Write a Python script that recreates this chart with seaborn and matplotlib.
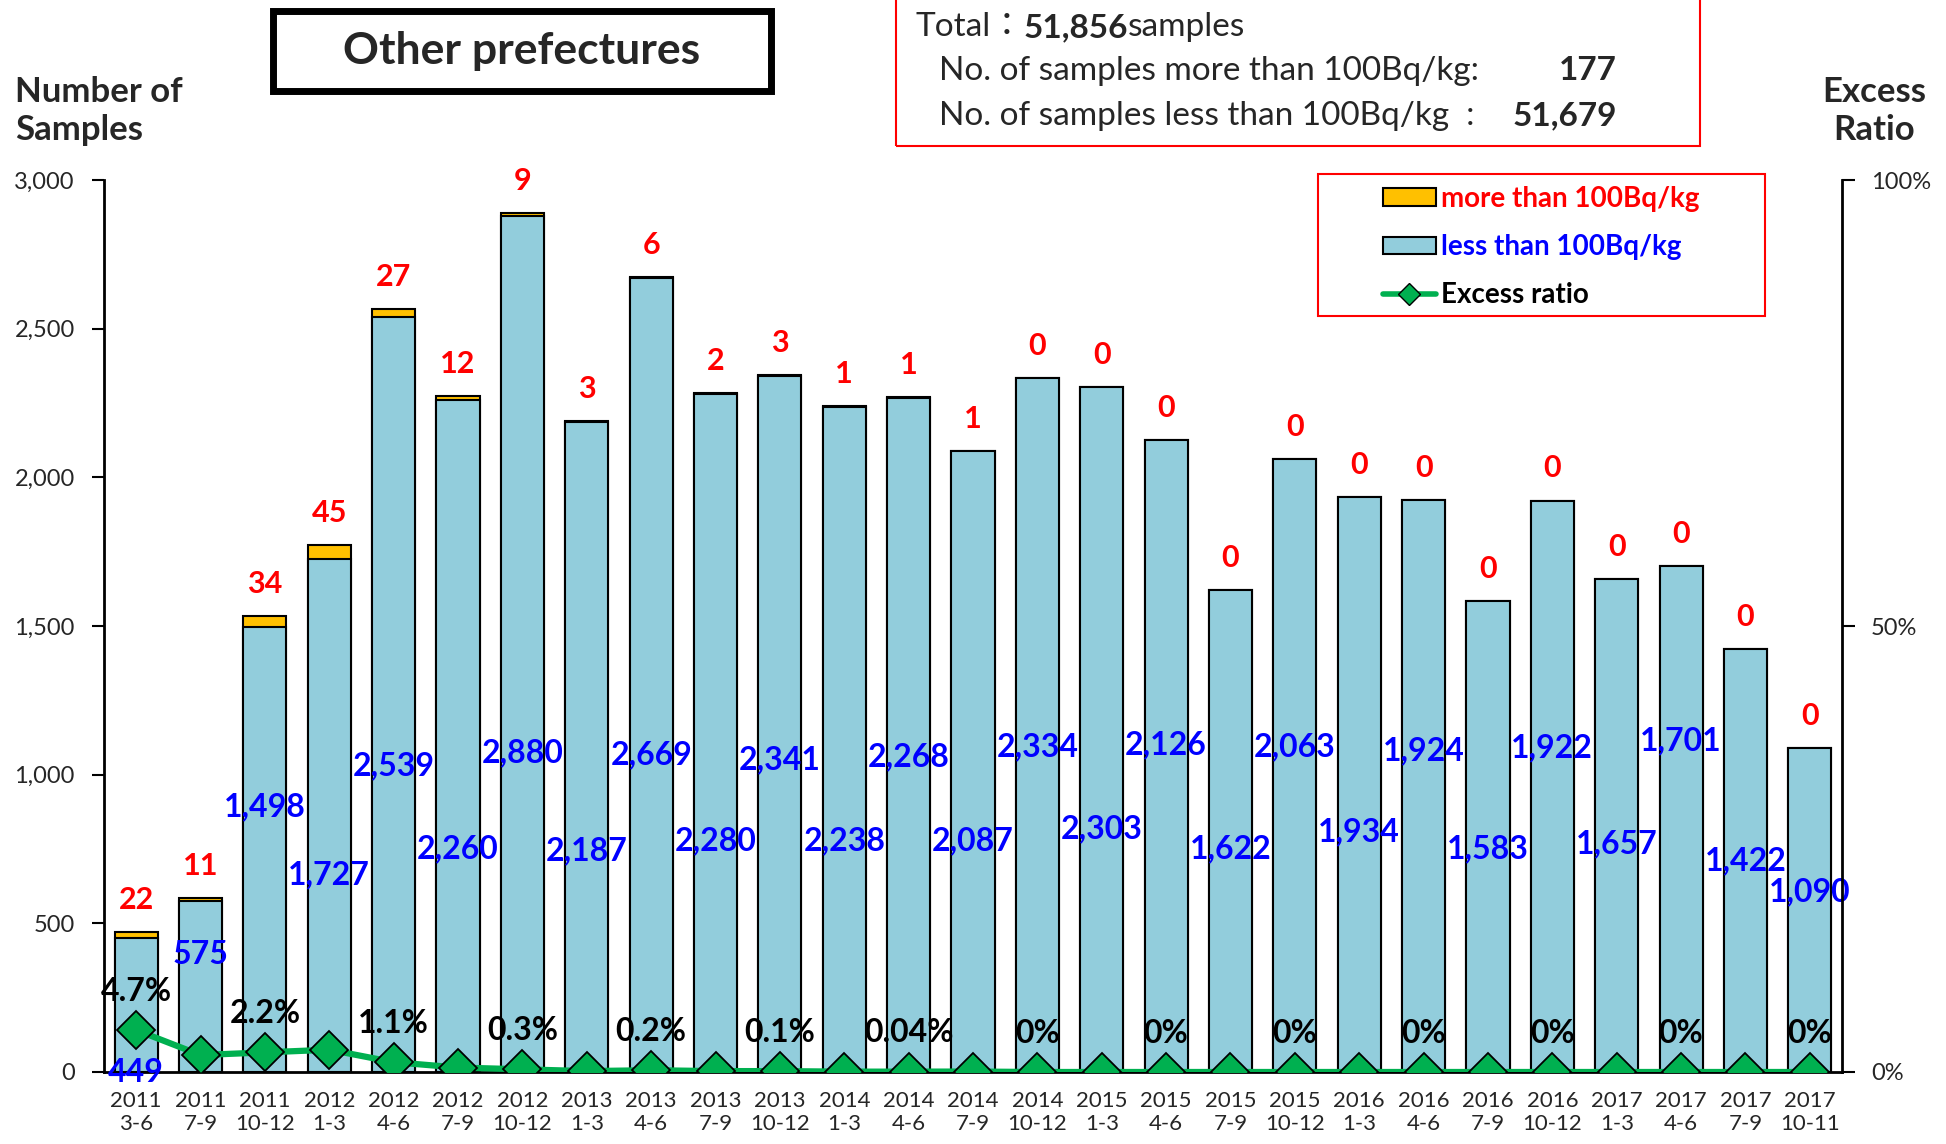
import numpy as np
import pandas as pd
import matplotlib
matplotlib.use("Agg")
import matplotlib.pyplot as plt
import seaborn as sns
from matplotlib.patches import Rectangle, Patch
from matplotlib.lines import Line2D

years = ["2011"] * 3 + ["2012"] * 4 + ["2013"] * 4 + ["2014"] * 4 + ["2015"] * 4 + ["2016"] * 4 + ["2017"] * 4
months = ["3-6", "7-9", "10-12"] + ["1-3", "4-6", "7-9", "10-12"] * 5 + ["1-3", "4-6", "7-9", "10-11"]

less = [449, 575, 1498, 1727, 2539, 2260, 2880, 2187, 2669, 2280, 2341, 2238, 2268, 2087,
        2334, 2303, 2126, 1622, 2063, 1934, 1924, 1583, 1922, 1657, 1701, 1422, 1090]
more = [22, 11, 34, 45, 27, 12, 9, 3, 6, 2, 3, 1, 1, 1,
        0, 0, 0, 0, 0, 0, 0, 0, 0, 0, 0, 0, 0]
ratio = [4.7, 1.9, 2.2, 2.5, 1.1, 0.5, 0.3, 0.1, 0.2, 0.1, 0.1, 0.04, 0.04, 0.05,
         0, 0, 0, 0, 0, 0, 0, 0, 0, 0, 0, 0, 0]
ratio_labels = ["4.7%", "", "2.2%", "", "1.1%", "", "0.3%", "", "0.2%", "", "0.1%", "", "0.04%", "",
                "0%", "", "0%", "", "0%", "", "0%", "", "0%", "", "0%", "", "0%"]

# where Excel put the blue labels (data units)
less_label_y = [0, 396, 893, 663, 1030, 751, 1072, 743, 1068, 776, 1051, 776, 1060, 776,
                1093, 818, 1101, 751, 1093, 809, 1081, 751, 1089, 768, 1114, 709, 605]

df = pd.DataFrame({"period": [y + "\n" + m for y, m in zip(years, months)],
                   "less": less, "more": more})
df["total"] = df.less + df.more

W, H = 1946, 1144
sns.set_theme(style="white")
plt.rcParams["font.family"] = ["Lato", "Noto Sans CJK JP", "DejaVu Sans"]

BLUE_BAR = "#92CDDC"
GOLD = "#FFC000"
GREEN = "#00B050"

fig = plt.figure(figsize=(W / 100, H / 100), dpi=100)
ax = fig.add_axes([104 / W, 1 - 1072 / H, (1842 - 104) / W, (1072 - 180) / H])

sns.barplot(data=df, x="period", y="total", color=GOLD, saturation=1, width=0.67,
            edgecolor="black", linewidth=1.5, errorbar=None, ax=ax)
sns.barplot(data=df, x="period", y="less", color=BLUE_BAR, saturation=1, width=0.67,
            edgecolor="black", linewidth=1.5, errorbar=None, ax=ax)

ax.set_xlim(-0.5, len(df) - 0.5)
ax.set_ylim(0, 3000)
ax.set_yticks(range(0, 3001, 500))
ax.set_yticklabels([f"{v:,}" for v in range(0, 3001, 500)], fontsize=17)
ax.set_xlabel("")
ax.set_ylabel("")
ax.tick_params(axis="x", which="major", length=0, labelsize=16, pad=14)
ax.set_xticks(np.arange(-0.5, len(df), 1), minor=True)
ax.tick_params(axis="x", which="minor", length=9, width=1.5, direction="out", color="black")
ax.tick_params(axis="y", length=9, width=1.5, direction="out", color="black", pad=12, left=True)
for lab in ax.get_xticklabels():
    lab.set_linespacing(1.15)
for side in ["top", "right"]:
    ax.spines[side].set_visible(False)
for side in ["left", "bottom"]:
    ax.spines[side].set_linewidth(2)
    ax.spines[side].set_color("black")

# labels on bars
for i, row in df.iterrows():
    ax.annotate(f"{row.more}", (i, row.total), xytext=(0, 13), textcoords="offset points",
                ha="center", va="bottom", color="red", fontsize=22, fontweight="bold")
    ax.text(i, less_label_y[i], f"{row.less:,}", ha="center", va="center",
            color="blue", fontsize=23, fontweight="bold", zorder=5)

# excess ratio on the right axis
ax2 = ax.twinx()
sns.lineplot(x=np.arange(len(df)), y=ratio, color=GREEN, linewidth=4.5, marker="D",
             markersize=19, markerfacecolor=GREEN, markeredgecolor="black",
             markeredgewidth=1.3, ax=ax2)
ax2.set_ylim(0, 100)
ax2.set_yticks([0, 50, 100])
ax2.set_yticklabels(["0%", "50%", "100%"], fontsize=17)
ax2.tick_params(axis="y", length=9, width=1.5, direction="out", color="black", pad=12, right=True)
for side in ["top", "left", "bottom"]:
    ax2.spines[side].set_visible(False)
ax2.spines["right"].set_linewidth(2)
ax2.spines["right"].set_color("black")
ax2.set_xlim(-0.5, len(df) - 0.5)
for i, lab in enumerate(ratio_labels):
    if lab:
        ax2.annotate(lab, (i, ratio[i]), xytext=(0, 28), textcoords="offset points",
                     ha="center", va="center", color="black", fontsize=23, fontweight="bold")

# axis titles
fig.text(15 / W, 1 - 111 / H, "Number of\nSamples", ha="left", va="center",
         fontsize=25, fontweight="bold", linespacing=1.25)
fig.text(1874 / W, 1 - 111 / H, "Excess\nRatio", ha="center", va="center",
         fontsize=25, fontweight="bold", linespacing=1.25)

# title box
fig.patches.append(Rectangle((273 / W, 1 - 91 / H), 498 / W, 80 / H, transform=fig.transFigure,
                             fill=False, edgecolor="black", linewidth=5))
fig.text(522 / W, 1 - 51 / H, "Other prefectures", ha="center", va="center",
         fontsize=32, fontweight="bold")

# summary box
fig.patches.append(Rectangle((896 / W, 1 - 146 / H), 804 / W, 160 / H, transform=fig.transFigure,
                             fill=False, edgecolor="red", linewidth=1.5))
t1 = fig.text(915 / W, 1 - 42 / H, "Total：", ha="left", va="bottom", fontsize=24)
a2 = ax.annotate("51,856", xy=(1, 0), xycoords=t1, ha="left", va="bottom",
                 fontsize=24, fontweight="bold")
ax.annotate("samples", xy=(1, 0), xycoords=a2, ha="left", va="bottom", fontsize=24)
fig.text(939 / W, 1 - 71 / H, "No. of samples more than 100Bq/kg:", ha="left", va="center", fontsize=24)
fig.text(1617 / W, 1 - 71 / H, "177", ha="right", va="center", fontsize=24, fontweight="bold")
fig.text(939 / W, 1 - 116 / H, "No. of samples less than 100Bq/kg  :", ha="left", va="center", fontsize=24)
fig.text(1617 / W, 1 - 116 / H, "51,679", ha="right", va="center", fontsize=24, fontweight="bold")

# legend
fig.patches.append(Rectangle((1318 / W, 1 - 316 / H), 447 / W, 142 / H, transform=fig.transFigure,
                             fill=False, edgecolor="red", linewidth=1.5))
handles = [Patch(facecolor=GOLD, edgecolor="black", linewidth=1.5),
           Patch(facecolor=BLUE_BAR, edgecolor="black", linewidth=1.5),
           Line2D([0], [0], color=GREEN, linewidth=4, marker="D", markersize=11,
                  markerfacecolor=GREEN, markeredgecolor="black")]
leg = fig.legend(handles, ["more than 100Bq/kg", "less than 100Bq/kg", "Excess ratio"],
                 loc="upper left", bbox_to_anchor=(1369 / W, 1 - 172 / H), frameon=False,
                 prop={"size": 20, "weight": "bold"}, handlelength=1.9, handleheight=0.6,
                 handletextpad=0.2, labelspacing=0.8, borderpad=0)
for txt, c in zip(leg.get_texts(), ["red", "blue", "black"]):
    txt.set_color(c)

fig.savefig("out.png", dpi=100)
